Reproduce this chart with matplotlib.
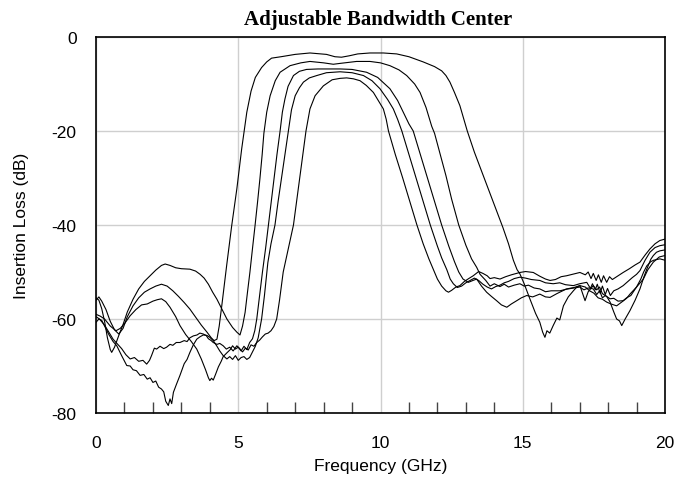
import numpy as np
from matplotlib import pyplot as plt
from matplotlib.ticker import MultipleLocator

# Five filter responses (frequency in GHz, insertion loss in dB), read off the
# original picture. Ordered from the widest passband to the narrowest.
curve_a = [(0.0, -56.0), (0.1, -55.3), (0.2, -56.2), (0.35, -58.0), (0.5, -60.5), (0.65, -62.3),
           (0.8, -63.2), (0.95, -62.0), (1.1, -59.5), (1.3, -57.2), (1.5, -55.5), (1.7, -54.3),
           (1.9, -53.6), (2.1, -53.0), (2.3, -52.6), (2.5, -53.0), (2.7, -54.0), (2.9, -55.2),
           (3.1, -56.5), (3.3, -57.9), (3.5, -59.6), (3.7, -61.3), (3.9, -62.8), (4.05, -64.0),
           (4.15, -64.6), (4.25, -64.3), (4.33, -61.5), (4.42, -57.2), (4.59, -48.7), (4.77, -40.1),
           (4.95, -32.3), (5.12, -23.8), (5.3, -16.0), (5.45, -11.5), (5.6, -8.6), (5.82, -6.5),
           (6.0, -5.3), (6.17, -4.5), (6.5, -4.2), (7.0, -3.7), (7.52, -3.4), (8.1, -3.7),
           (8.4, -4.2), (8.63, -4.3), (8.9, -4.0), (9.2, -3.6), (9.63, -3.4), (10.1, -3.4),
           (10.57, -3.6), (11.0, -4.2), (11.5, -5.3), (11.9, -6.3), (12.15, -7.2), (12.3, -8.2),
           (12.44, -9.6), (12.6, -11.8), (12.79, -14.6), (13.05, -20.0), (13.3, -24.5), (13.55, -28.5),
           (13.8, -32.5), (14.05, -36.5), (14.3, -40.5), (14.5, -44.0), (14.67, -47.5), (14.8, -49.5),
           (14.9, -50.4), (15.05, -52.5), (15.25, -55.7), (15.45, -58.8), (15.6, -60.7), (15.7, -62.8),
           (15.78, -63.9), (15.85, -62.5), (15.95, -63.0), (16.07, -61.4), (16.2, -59.8), (16.3, -60.2),
           (16.43, -57.2), (16.6, -55.3), (16.78, -54.0), (16.9, -53.2), (17.01, -52.9), (17.1, -54.5),
           (17.19, -56.1), (17.3, -54.2), (17.48, -52.9), (17.6, -53.8), (17.7, -53.2), (17.8, -54.6),
           (17.95, -55.2), (18.07, -56.4), (18.2, -58.5), (18.3, -60.0), (18.4, -60.4), (18.48, -61.4),
           (18.6, -60.0), (18.77, -58.2), (18.95, -56.0), (19.12, -53.6), (19.25, -51.2), (19.36, -49.4),
           (19.5, -47.3), (19.59, -46.5), (19.7, -45.8), (19.82, -45.5), (20.0, -45.3)]

curve_b = [(0.0, -55.5), (0.1, -56.0), (0.2, -57.8), (0.3, -60.5), (0.4, -64.0), (0.5, -66.5),
           (0.55, -67.1), (0.65, -66.0), (0.8, -63.5), (0.96, -61.0), (1.1, -58.5), (1.3, -55.8),
           (1.5, -53.6), (1.7, -52.0), (1.9, -50.8), (2.1, -49.6), (2.3, -48.6), (2.43, -48.3),
           (2.6, -48.6), (2.8, -49.1), (3.0, -49.3), (3.3, -49.4), (3.5, -49.8), (3.66, -50.5),
           (3.8, -51.3), (3.95, -52.6), (4.1, -54.3), (4.25, -55.8), (4.4, -57.6), (4.6, -60.0),
           (4.8, -61.8), (4.95, -62.8), (5.06, -63.4), (5.15, -61.5), (5.24, -58.6), (5.32, -54.5),
           (5.41, -50.0), (5.5, -45.0), (5.59, -40.1), (5.68, -35.0), (5.76, -30.2), (5.84, -25.0),
           (5.9, -20.5), (6.0, -16.0), (6.12, -12.5), (6.3, -9.3), (6.47, -7.5), (6.82, -6.1),
           (7.2, -5.5), (7.52, -5.2), (8.0, -5.5), (8.34, -5.8), (8.6, -5.6), (9.16, -5.2),
           (9.63, -5.2), (10.0, -5.5), (10.33, -6.1), (10.65, -7.0), (10.92, -8.2), (11.2, -10.0),
           (11.39, -11.8), (11.6, -15.0), (11.8, -19.0), (11.9, -20.5), (12.1, -25.0), (12.3, -29.5),
           (12.5, -34.5), (12.75, -40.0), (13.0, -44.3), (13.2, -47.2), (13.38, -49.0), (13.5, -50.5),
           (13.7, -51.8), (13.85, -53.0), (14.0, -52.5), (14.2, -53.1), (14.35, -52.6), (14.5, -53.2),
           (14.7, -52.8), (14.9, -52.5), (15.05, -53.0), (15.2, -52.8), (15.4, -53.4), (15.6, -53.6),
           (15.8, -54.2), (16.0, -54.0), (16.31, -54.0), (16.5, -53.7), (16.7, -53.5), (17.01, -53.2),
           (17.15, -53.8), (17.3, -53.4), (17.48, -53.6), (17.6, -54.8), (17.7, -54.0), (17.8, -55.5),
           (17.9, -55.0), (18.07, -55.7), (18.2, -55.6), (18.35, -56.2), (18.53, -56.1), (18.65, -55.5),
           (18.8, -55.0), (19.0, -53.2), (19.15, -51.5), (19.25, -50.0), (19.36, -48.7), (19.5, -47.8),
           (19.6, -47.5), (19.82, -47.2), (20.0, -47.5)]

curve_c = [(0.0, -59.0), (0.15, -59.4), (0.3, -60.0), (0.5, -61.5), (0.7, -62.5), (0.85, -62.0),
           (1.0, -61.0), (1.2, -59.3), (1.4, -58.0), (1.6, -57.0), (1.8, -56.8), (2.0, -56.2),
           (2.15, -55.9), (2.3, -55.7), (2.45, -56.3), (2.6, -57.5), (2.8, -59.5), (2.95, -61.4),
           (3.15, -63.3), (3.35, -64.8), (3.54, -66.4), (3.7, -68.5), (3.85, -70.8), (3.95, -72.5),
           (4.0, -73.1), (4.06, -72.6), (4.12, -73.0), (4.2, -71.8), (4.3, -70.2), (4.4, -69.0),
           (4.47, -68.0), (4.6, -67.2), (4.72, -66.5), (4.8, -65.7), (4.9, -66.4), (5.0, -66.0),
           (5.1, -66.8), (5.2, -65.8), (5.3, -66.5), (5.4, -65.0), (5.5, -64.2), (5.58, -62.5),
           (5.65, -60.0), (5.75, -55.0), (5.85, -50.0), (5.96, -45.0), (6.06, -40.0), (6.16, -35.0),
           (6.26, -30.0), (6.36, -25.0), (6.47, -20.0), (6.55, -16.0), (6.64, -13.2), (6.75, -10.5),
           (6.94, -8.2), (7.15, -7.3), (7.4, -6.9), (7.8, -6.8), (8.34, -6.8), (8.58, -6.8),
           (9.0, -6.9), (9.51, -7.5), (9.9, -8.6), (10.33, -11.0), (10.6, -13.5), (10.8, -16.0),
           (11.0, -18.5), (11.15, -20.0), (11.4, -25.0), (11.65, -30.0), (11.9, -35.0), (12.15, -40.0),
           (12.4, -44.5), (12.6, -47.8), (12.75, -50.0), (12.9, -51.5), (13.09, -52.2), (13.25, -51.8),
           (13.38, -51.5), (13.55, -53.0), (13.73, -54.3), (13.9, -55.2), (14.08, -56.1), (14.25, -57.0),
           (14.44, -57.5), (14.6, -56.8), (14.79, -56.1), (14.95, -55.5), (15.14, -55.0), (15.35, -55.3),
           (15.6, -54.7), (15.8, -55.3), (15.96, -55.4), (16.2, -54.6), (16.54, -53.6), (16.8, -53.3),
           (17.01, -52.9), (17.2, -53.2), (17.35, -54.0), (17.5, -54.5), (17.65, -55.5), (17.8, -55.8),
           (17.95, -56.4), (18.1, -56.8), (18.3, -57.2), (18.5, -56.3), (18.65, -55.6), (18.77, -54.7),
           (19.0, -53.2), (19.24, -51.5), (19.4, -49.5), (19.59, -47.9), (19.8, -46.8), (20.0, -46.5)]

curve_d = [(0.0, -60.7), (0.1, -60.0), (0.2, -60.3), (0.3, -61.5), (0.45, -63.3), (0.6, -64.8),
           (0.73, -65.7), (0.9, -67.8), (1.08, -69.9), (1.2, -70.0), (1.3, -70.8), (1.42, -71.0),
           (1.55, -72.0), (1.68, -71.8), (1.8, -72.8), (1.9, -72.5), (2.0, -73.5), (2.1, -73.2),
           (2.2, -74.5), (2.3, -74.9), (2.38, -75.5), (2.45, -77.5), (2.54, -78.4), (2.6, -77.0),
           (2.66, -78.0), (2.72, -75.6), (2.82, -74.0), (2.95, -72.0), (3.1, -69.5), (3.2, -68.6),
           (3.3, -67.1), (3.42, -65.5), (3.54, -64.3), (3.65, -63.8), (3.77, -63.4), (3.9, -63.5),
           (4.0, -63.9), (4.12, -64.6), (4.24, -65.7), (4.35, -66.8), (4.47, -67.8), (4.6, -68.5),
           (4.7, -68.0), (4.8, -68.6), (4.9, -67.8), (5.0, -68.8), (5.1, -68.2), (5.2, -68.0),
           (5.3, -68.6), (5.4, -68.2), (5.5, -67.0), (5.6, -65.8), (5.7, -64.0), (5.76, -62.0),
           (5.82, -60.0), (5.92, -55.0), (6.04, -48.0), (6.15, -44.0), (6.29, -40.0), (6.4, -35.0),
           (6.52, -30.0), (6.64, -25.0), (6.76, -20.0), (6.87, -15.5), (7.0, -12.5), (7.15, -10.8),
           (7.29, -9.6), (7.5, -8.7), (7.76, -8.2), (8.1, -7.6), (8.58, -7.4), (9.0, -7.6),
           (9.4, -8.2), (9.7, -9.3), (9.98, -11.0), (10.25, -13.3), (10.45, -15.3), (10.6, -17.5),
           (10.75, -20.0), (11.0, -25.0), (11.25, -30.0), (11.5, -35.0), (11.75, -40.0), (12.0, -44.5),
           (12.15, -47.0), (12.33, -49.5), (12.45, -51.5), (12.56, -52.5), (12.7, -53.3), (12.85, -53.0),
           (13.0, -52.3), (13.15, -51.8), (13.3, -51.3), (13.45, -51.8), (13.6, -52.6), (13.75, -53.2),
           (13.9, -53.6), (14.05, -53.1), (14.2, -52.8), (14.35, -52.3), (14.5, -52.0), (14.7, -51.4),
           (14.9, -51.1), (15.1, -51.3), (15.3, -51.6), (15.6, -51.8), (15.8, -52.3), (16.07, -52.5),
           (16.3, -52.3), (16.5, -52.7), (16.78, -52.9), (17.0, -52.5), (17.25, -52.2), (17.38, -53.5),
           (17.45, -52.5), (17.55, -53.8), (17.62, -52.6), (17.72, -54.5), (17.8, -53.0), (17.9, -54.8),
           (17.98, -53.5), (18.08, -55.0), (18.2, -54.0), (18.35, -53.6), (18.53, -52.9), (18.7, -52.0),
           (18.85, -51.2), (19.0, -50.5), (19.12, -49.7), (19.3, -47.5), (19.47, -45.8), (19.65, -44.8),
           (19.82, -44.4), (20.0, -44.2)]

curve_e = [(0.0, -59.5), (0.12, -60.0), (0.3, -61.3), (0.45, -62.8), (0.6, -64.3), (0.75, -65.3),
           (0.9, -66.3), (1.05, -67.6), (1.2, -68.5), (1.35, -68.2), (1.5, -69.0), (1.65, -68.8),
           (1.78, -69.6), (1.88, -68.8), (1.95, -67.8), (2.05, -66.2), (2.13, -66.4), (2.25, -65.8),
           (2.38, -66.3), (2.48, -66.0), (2.6, -65.4), (2.7, -65.6), (2.82, -65.0), (2.95, -65.0),
           (3.1, -64.6), (3.2, -64.8), (3.3, -64.0), (3.42, -63.6), (3.55, -63.4), (3.65, -63.0),
           (3.77, -63.2), (3.87, -63.5), (3.95, -64.2), (4.05, -64.6), (4.12, -65.0), (4.25, -65.4),
           (4.35, -65.2), (4.47, -65.7), (4.58, -66.4), (4.7, -66.0), (4.82, -66.8), (4.95, -65.7),
           (5.05, -66.3), (5.15, -67.0), (5.25, -66.2), (5.35, -66.6), (5.45, -65.5), (5.55, -65.8),
           (5.65, -65.0), (5.75, -64.5), (5.85, -63.8), (5.95, -63.2), (6.05, -63.0), (6.15, -62.5),
           (6.25, -61.6), (6.35, -60.0), (6.45, -56.0), (6.58, -50.0), (6.76, -45.0), (6.94, -40.0),
           (7.05, -35.0), (7.16, -30.0), (7.27, -25.0), (7.38, -20.0), (7.52, -15.3), (7.7, -12.5),
           (7.99, -10.4), (8.3, -9.1), (8.58, -8.8), (8.81, -8.7), (9.05, -8.9), (9.28, -9.3),
           (9.5, -10.3), (9.75, -11.8), (9.95, -13.8), (10.1, -15.3), (10.2, -17.5), (10.28, -20.0),
           (10.52, -25.0), (10.78, -30.0), (11.03, -35.0), (11.28, -40.0), (11.5, -44.0), (11.7, -47.2),
           (11.86, -49.5), (12.0, -51.5), (12.15, -53.0), (12.3, -54.0), (12.39, -54.3), (12.5, -53.9),
           (12.65, -53.2), (12.79, -52.9), (12.95, -52.0), (13.1, -51.4), (13.26, -50.8), (13.45, -49.9),
           (13.6, -50.3), (13.75, -50.8), (13.85, -51.4), (14.0, -51.2), (14.2, -51.5), (14.4, -51.0),
           (14.6, -50.6), (14.9, -50.1), (15.1, -49.9), (15.37, -50.1), (15.6, -50.9), (15.8, -51.5),
           (15.96, -51.8), (16.15, -51.6), (16.35, -51.0), (16.54, -50.8), (16.8, -50.4), (17.01, -50.1),
           (17.2, -50.6), (17.3, -50.0), (17.4, -51.4), (17.48, -50.3), (17.58, -51.8), (17.66, -50.6),
           (17.76, -52.2), (17.84, -50.8), (17.95, -52.2), (18.05, -51.0), (18.15, -51.6), (18.3, -51.0),
           (18.53, -50.1), (18.75, -49.3), (18.95, -48.5), (19.12, -47.9), (19.3, -46.4), (19.47, -45.1),
           (19.65, -44.0), (19.82, -43.3), (20.0, -43.0)]

curves = [curve_a, curve_b, curve_c, curve_d, curve_e]

x_ticks = [0, 5, 10, 15, 20]
y_ticks = [-80, -60, -40, -20, 0]

plt.rcParams['font.family'] = ['Liberation Sans', 'DejaVu Sans']
plt.rcParams['axes.unicode_minus'] = False  # plain hyphen, like "-80" in the original

fig = plt.figure(figsize=(6.84, 4.81), dpi=100)
ax = fig.add_axes([0.1404, 0.1393, 0.8318, 0.7817])

# all traces are thin black lines
for c in curves:
	pts = np.array(c)
	ax.plot(pts[:, 0], pts[:, 1], color='black', lw=0.8)

ax.set_xlim(0, 20)
ax.set_ylim(-80, 0)
ax.set_xticks(x_ticks)
ax.set_yticks(y_ticks)
ax.xaxis.set_minor_locator(MultipleLocator(1))

# grid only at the major positions, no major tick marks
ax.grid(True, which='major', color='#cfcfcf', lw=1.0)
ax.set_axisbelow(True)
ax.tick_params(which='major', length=0, labelsize=12.5)
ax.tick_params(axis='x', which='major', pad=16)
ax.tick_params(axis='y', which='major', pad=14)
ax.tick_params(axis='x', which='minor', direction='in', length=8, width=1, color='#444444')
ax.tick_params(axis='y', which='minor', length=0)

for s in ax.spines.values():
	s.set_linewidth(1.2)
	s.set_color('black')

ax.set_xlabel('Frequency (GHz)', fontsize=12.5)
ax.xaxis.set_label_coords(0.5, -0.12)
ax.set_ylabel('Insertion Loss (dB)', fontsize=12.5)
ax.yaxis.set_label_coords(-0.118, 0.5)

fig.text(0.553, 0.958, 'Adjustable Bandwidth Center', ha='center', va='center',
         family=['Liberation Serif', 'DejaVu Serif'], fontweight='bold', fontsize=15)

fig.savefig('out.png', dpi=100)
